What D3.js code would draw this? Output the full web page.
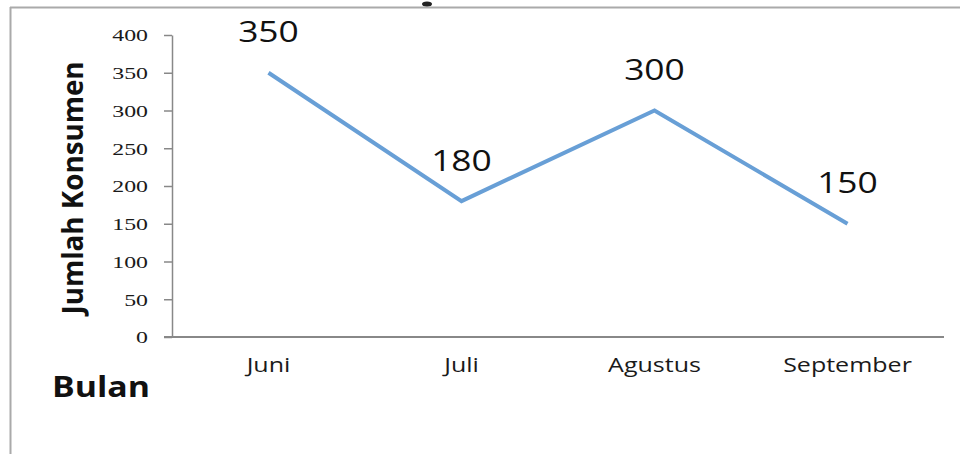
<!DOCTYPE html>
<html>
<head>
<meta charset="utf-8">
<script src="https://cdn.jsdelivr.net/npm/d3@7"></script>
<style>
  body { margin: 0; background: #fff; }
</style>
</head>
<body>
<div id="chart"></div>
<script>
const months = ['Juni', 'Juli', 'Agustus', 'September'];
const consumers = [350, 180, 300, 150];
const yTicks = [0, 50, 100, 150, 200, 250, 300, 350, 400];

const width = 960;
const height = 454;
const margin = { top: 35, right: 16, bottom: 117, left: 172 };

const svg = d3.select('#chart')
              .append('svg')
              .attr('width', width)
              .attr('height', height);

// the source picture is stretched sideways, so widen text to match
const stretch = (sel, factor) => {
  sel.each(function () {
    const w = this.getComputedTextLength();
    d3.select(this)
      .attr('textLength', w * factor)
      .attr('lengthAdjust', 'spacingAndGlyphs');
  });
};

// outer frame (top + left only visible)
svg.append('line')
   .attr('x1', 10).attr('x2', width)
   .attr('y1', 7.5).attr('y2', 7.5)
   .attr('stroke', '#aaa').attr('stroke-width', 2);
svg.append('line')
   .attr('x1', 10.5).attr('x2', 10.5)
   .attr('y1', 7).attr('y2', height)
   .attr('stroke', '#aaa').attr('stroke-width', 2);
svg.append('ellipse')
   .attr('cx', 427).attr('cy', 4).attr('rx', 5).attr('ry', 2.5)
   .attr('fill', '#222');

const x = d3.scaleBand()
            .domain(months)
            .range([margin.left, width - margin.right]);

const y = d3.scaleLinear()
            .domain([0, 400])
            .range([height - margin.bottom, margin.top]);

const yAxis = svg.append('g')
                 .attr('transform', 'translate(' + margin.left + ',0)')
                 .call(d3.axisLeft(y).tickValues(yTicks).tickSize(8).tickSizeOuter(0).tickPadding(16));
yAxis.selectAll('line, path').attr('stroke', '#888').attr('stroke-width', 1.5);
yAxis.selectAll('text')
     .style('font-family', '"Liberation Serif", "DejaVu Serif", serif')
     .style('font-size', '17px')
     .attr('dy', '0.35em')
     .attr('fill', '#1a1a1a')
     .call(stretch, 1.4);

const xAxis = svg.append('g')
                 .attr('transform', 'translate(0,' + y(0) + ')')
                 .call(d3.axisBottom(x).tickSize(0).tickSizeOuter(0).tickPadding(21));
xAxis.select('path')
     .attr('d', 'M' + (margin.left - 8) + ',0H' + (width - margin.right))
     .attr('stroke', '#888').attr('stroke-width', 2);
xAxis.selectAll('text')
     .style('font-family', '"Open Sans", "Noto Sans", sans-serif')
     .style('font-size', '20px')
     .attr('fill', '#1a1a1a')
     .call(stretch, 1.25);

const line = d3.line()
               .x((d, i) => x(months[i]) + x.bandwidth() / 2)
               .y((d) => y(d));

svg.append('path')
   .datum(consumers)
   .attr('d', line)
   .attr('fill', 'none')
   .attr('stroke', '#689fd6')
   .attr('stroke-width', 4);

svg.selectAll('.val')
   .data(consumers)
   .enter()
   .append('text')
   .attr('class', 'val')
   .attr('x', (d, i) => x(months[i]) + x.bandwidth() / 2)
   .attr('y', (d) => y(d) - 30.5)
   .attr('text-anchor', 'middle')
   .style('font-family', '"Open Sans", "Noto Sans", sans-serif')
   .style('font-size', '29px')
   .attr('fill', '#111')
   .text((d) => d)
   .call(stretch, 1.22);

svg.append('text')
   .attr('transform', 'translate(83,188) rotate(-90)')
   .attr('text-anchor', 'middle')
   .attr('textLength', 253)
   .attr('lengthAdjust', 'spacingAndGlyphs')
   .style('font-family', '"Open Sans", "Noto Sans", sans-serif')
   .style('font-weight', 'bold')
   .style('font-size', '28px')
   .attr('fill', '#111')
   .text('Jumlah Konsumen');

svg.append('text')
   .attr('x', 52)
   .attr('y', 397)
   .attr('textLength', 98)
   .attr('lengthAdjust', 'spacingAndGlyphs')
   .style('font-family', '"Open Sans", "Noto Sans", sans-serif')
   .style('font-weight', 'bold')
   .style('font-size', '28px')
   .attr('fill', '#111')
   .text('Bulan');
</script>
</body>
</html>
